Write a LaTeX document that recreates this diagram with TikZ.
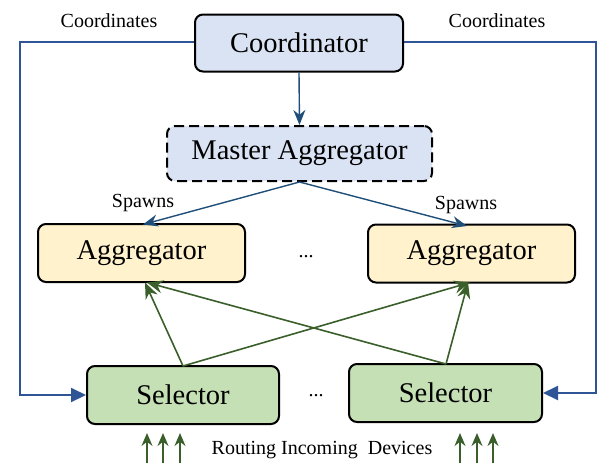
\documentclass[tikz,border=0pt]{standalone}
\usepackage{fontspec}
\setmainfont{Liberation Serif}
\usetikzlibrary{arrows.meta}
\definecolor{cblue}{HTML}{DAE3F3}
\definecolor{cyel}{HTML}{FFF2CC}
\definecolor{cgreen}{HTML}{C5E0B4}
\definecolor{lblue}{HTML}{2F5597}
\definecolor{dblue}{HTML}{1F4E79}
\definecolor{dgreen}{HTML}{3A5F2A}
\tikzset{
  box/.style={draw=black, line width=2pt, rounded corners=8pt, font=\fontsize{28.5}{30}\selectfont, inner sep=0pt},
  lbl/.style={font=\fontsize{20}{22}\selectfont, inner sep=0pt},
  loop/.style={draw=lblue, line width=2pt, -{Triangle[length=15pt,width=14pt]}},
  spawn/.style={draw=dblue, line width=1.4pt, -{Stealth[length=15pt,width=12pt]}},
  grn/.style={draw=dgreen, line width=1.6pt, -{Stealth[length=16pt,width=13pt]}},
  small/.style={draw=dgreen, line width=1.4pt, -{Stealth[length=13pt,width=11pt]}}
}
\begin{document}
\begin{tikzpicture}[x=1pt,y=-1pt]
\useasboundingbox (0,0) rectangle (600,463);
\node[box, fill=cblue, minimum width=208pt, minimum height=57pt] (coord) at (299,43) {Coordinator};
\node[box, fill=cblue, dashed, dash pattern=on 10pt off 5pt, minimum width=265pt, minimum height=55pt] (master) at (299.5,153.5) {Master Aggregator};
\node[box, fill=cyel, minimum width=207pt, minimum height=58pt] (agl) at (141.5,253) {Aggregator};
\node[box, fill=cyel, minimum width=207pt, minimum height=58pt] (agr) at (471.5,253.5) {Aggregator};
\node[box, fill=cgreen, minimum width=192pt, minimum height=58pt] (sell) at (183,395) {Selector};
\node[box, fill=cgreen, minimum width=193pt, minimum height=58pt] (selr) at (445.5,393) {Selector};
\node[lbl] (dots1) at (306,257) {...};
\node[lbl] (dots2) at (316,396) {...};
\node[lbl] (cl) at (109,21) {Coordinates};
\node[lbl] (cr) at (497,21) {Coordinates};
\node[lbl] (sl) at (143,203) {Spawns};
\node[lbl] (sr) at (466,205) {Spawns};
\node[lbl] (route) at (322,450) {Routing Incoming\ \ Devices};
% loops
\coordinate (lc1) at (20,42);
\coordinate (lc2) at (20,395);
\coordinate (rc1) at (596,42);
\coordinate (rc2) at (596,393);
\draw[loop] (coord.west |- 0,42) -- (lc1) -- (lc2) -- (sell.west);
\draw[loop] (coord.east |- 0,42) -- (rc1) -- (rc2) -- (selr.east);
% coordinator to master
\draw[spawn] (coord.south) -- (master.north);
\draw[spawn] (master.south) -- (143,224.5);
\draw[spawn] (master.south) -- (467,226);
% green
\coordinate (slt) at (183,366);
\coordinate (srt) at (446,364);
\draw[grn] (slt) -- (145,282.5);
\draw[grn] (slt) -- (470,282.5);
\draw[grn] (srt) -- (147,282.5);
\draw[grn] (srt) -- (468,282.5);
% small arrows
\foreach \x/\n in {147/a,163/b,180/c,460/d,477/e,493/f}{
  \coordinate (b\n) at (\x,466);
  \coordinate (t\n) at (\x,433);
  \draw[small] (b\n) -- (t\n);
}
\end{tikzpicture}
\end{document}
